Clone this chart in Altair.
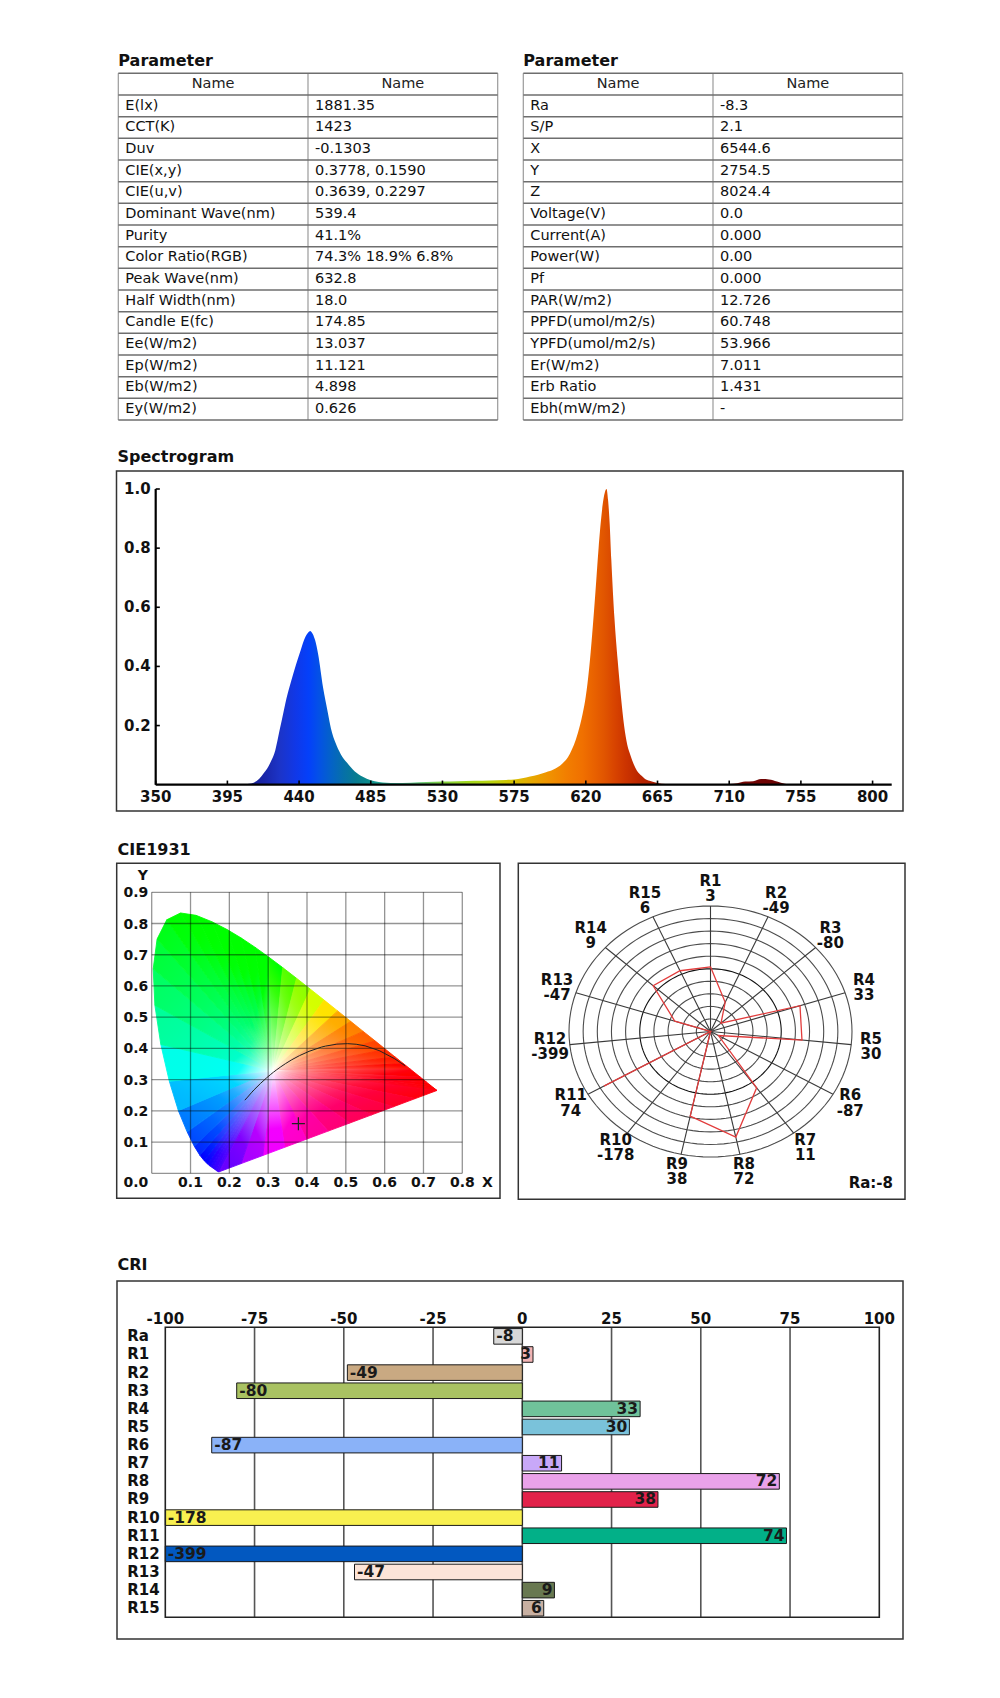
import altair as alt
import pandas as pd

FONT = "DejaVu Sans"

# ---------------- data ----------------
header = ["Name", "Name"]
left_names = ["E(lx)", "CCT(K)", "Duv", "CIE(x,y)", "CIE(u,v)", "Dominant Wave(nm)", "Purity",
              "Color Ratio(RGB)", "Peak Wave(nm)", "Half Width(nm)", "Candle E(fc)", "Ee(W/m2)",
              "Ep(W/m2)", "Eb(W/m2)", "Ey(W/m2)"]
left_values = ["1881.35", "1423", "-0.1303", "0.3778, 0.1590", "0.3639, 0.2297", "539.4", "41.1%",
               "74.3% 18.9% 6.8%", "632.8", "18.0", "174.85", "13.037", "11.121", "4.898", "0.626"]
right_names = ["Ra", "S/P", "X", "Y", "Z", "Voltage(V)", "Current(A)", "Power(W)", "Pf", "PAR(W/m2)",
               "PPFD(umol/m2/s)", "YPFD(umol/m2/s)", "Er(W/m2)", "Erb Ratio", "Ebh(mW/m2)"]
right_values = ["-8.3", "2.1", "6544.6", "2754.5", "8024.4", "0.0", "0.000", "0.00", "0.000", "12.726",
                "60.748", "53.966", "7.011", "1.431", "-"]

spec_wl = [350, 400, 405, 410, 415, 418, 420, 422, 425, 428, 430, 432, 435, 438, 441, 444, 446, 447,
           448, 450, 452, 455, 458, 460, 463, 466, 470, 475, 480, 485, 490, 495, 500, 510, 520, 530,
           540, 550, 560, 570, 575, 580, 585, 590, 595, 600, 605, 610, 615, 618, 620, 622, 624, 626,
           628, 630, 632, 633, 634, 635, 636, 638, 640, 642, 644, 646, 648, 650, 652, 655, 657, 660,
           665, 670, 680, 700, 710, 715, 720, 725, 730, 735, 740, 745, 750, 812]
spec_val = [0, 0, 0.001, 0.004, 0.02, 0.04, 0.055, 0.075, 0.115, 0.19, 0.24, 0.29, 0.35, 0.405,
            0.455, 0.50, 0.516, 0.52, 0.515, 0.49, 0.44, 0.33, 0.245, 0.19, 0.14, 0.105, 0.075,
            0.045, 0.027, 0.015, 0.009, 0.007, 0.006, 0.007, 0.009, 0.011, 0.012, 0.013, 0.014,
            0.016, 0.018, 0.022, 0.028, 0.034, 0.042, 0.052, 0.07, 0.105, 0.175, 0.24, 0.30, 0.39,
            0.51, 0.65, 0.80, 0.92, 0.99, 1.0, 0.96, 0.88, 0.76, 0.56, 0.42, 0.30, 0.20, 0.135, 0.10,
            0.07, 0.048, 0.03, 0.02, 0.013, 0.006, 0.002, 0.001, 0.001, 0.002, 0.005, 0.011, 0.012,
            0.019, 0.018, 0.011, 0.003, 0, 0]
spec_xticks = [350, 395, 440, 485, 530, 575, 620, 665, 710, 755, 800]
spec_yticks = [0.2, 0.4, 0.6, 0.8, 1.0]

locus_x = [0.1741, 0.1714, 0.1689, 0.1644, 0.1566, 0.1510, 0.1440, 0.1355, 0.1241, 0.1096, 0.0913,
           0.0687, 0.0454, 0.0235, 0.0082, 0.0039, 0.0139, 0.0389, 0.0743, 0.1142, 0.1547, 0.1929,
           0.2296, 0.2658, 0.3016, 0.3373, 0.3731, 0.4087, 0.4441, 0.4788, 0.5125, 0.5448, 0.5752,
           0.6029, 0.6270, 0.6482, 0.6658, 0.6915, 0.7079, 0.7190, 0.7260, 0.7300, 0.7334, 0.7347]
locus_y = [0.0050, 0.0051, 0.0069, 0.0109, 0.0177, 0.0227, 0.0297, 0.0399, 0.0578, 0.0868, 0.1327,
           0.2007, 0.2950, 0.4127, 0.5384, 0.6548, 0.7502, 0.8120, 0.8338, 0.8262, 0.8059, 0.7816,
           0.7543, 0.7243, 0.6923, 0.6589, 0.6245, 0.5896, 0.5547, 0.5202, 0.4866, 0.4544, 0.4242,
           0.3965, 0.3725, 0.3514, 0.3340, 0.3083, 0.2920, 0.2809, 0.2740, 0.2700, 0.2666, 0.2653]
white_xy = (0.3127, 0.3290)
planck_x = [0.2399, 0.2471, 0.2565, 0.2637, 0.2807, 0.2952, 0.3064, 0.3135, 0.3221, 0.3325, 0.3451,
            0.3608, 0.3805, 0.4053, 0.4369, 0.4476, 0.4770, 0.5045, 0.5267, 0.5497, 0.5857, 0.6251, 0.6528]
planck_y = [0.2342, 0.2441, 0.2577, 0.2674, 0.2884, 0.3048, 0.3166, 0.3237, 0.3318, 0.3411, 0.3516,
            0.3636, 0.3768, 0.3907, 0.4041, 0.4074, 0.4137, 0.4152, 0.4133, 0.4082, 0.3931, 0.3674, 0.3444]
sample_xy = (0.3778, 0.1590)
cie_xticks = [0.0, 0.1, 0.2, 0.3, 0.4, 0.5, 0.6, 0.7, 0.8]
cie_yticks = [0.0, 0.1, 0.2, 0.3, 0.4, 0.5, 0.6, 0.7, 0.8, 0.9]

cri_names = ["Ra", "R1", "R2", "R3", "R4", "R5", "R6", "R7", "R8", "R9", "R10", "R11", "R12", "R13", "R14", "R15"]
cri_values = [-8, 3, -49, -80, 33, 30, -87, 11, 72, 38, -178, 74, -399, -47, 9, 6]
cri_colors = ["#d8d8d8", "#f2b4b4", "#c9a982", "#a9c262", "#70c29a", "#7ac2da", "#8ab2f8", "#c8a8f8",
              "#eaa2ea", "#e2224a", "#f8f050", "#02b088", "#0258c0", "#fce4d8", "#687850", "#c8b0a2"]
cri_ticks = [-100, -75, -50, -25, 0, 25, 50, 75, 100]

# styles
spec_stop_nm = [350, 405, 418, 428, 438, 446, 452, 460, 468, 476, 484, 492, 502, 515, 530, 545, 560, 572,
                584, 596, 608, 618, 626, 632, 638, 645, 655, 670, 700, 730, 760, 812]
spec_stop_col = ["#161a80", "#161c88", "#1a26a8", "#1c34c8", "#1038e8", "#0440fa", "#0450e8", "#0462c8",
                 "#0670a8", "#087c90", "#0c8c8c", "#22a894", "#48c0a0", "#66c880", "#80d040", "#a0d820",
                 "#b8d410", "#d0c400", "#e4ac00", "#f09400", "#f27e00", "#f07000", "#e86000", "#e05400",
                 "#d84400", "#cc3400", "#b82400", "#a01800", "#881008", "#700404", "#600000", "#500000"]


# ---------------- helpers ----------------
def lin(domain, rng, **kw):
    return alt.Scale(type="linear", domain=domain, range=rng, nice=False, zero=False, **kw)


def X(scale, field=None, datum=None):
    if field is not None:
        return alt.X(field, scale=scale, axis=None)
    return alt.X(datum=datum, scale=scale, axis=None)


def Y(scale, field=None, datum=None):
    if field is not None:
        return alt.Y(field, scale=scale, axis=None)
    return alt.Y(datum=datum, scale=scale, axis=None)


def one():
    return pd.DataFrame({"k": [0]})


def frame(x0, y0, x1, y1, color="#333", width=1.5):
    return alt.Chart(one()).mark_rect(fillOpacity=0, stroke=color, strokeWidth=width).encode(
        x=alt.value(x0), x2=alt.value(x1), y=alt.value(y0), y2=alt.value(y1))


def title_text(txt, x, y):
    return alt.Chart(pd.DataFrame({"t": [txt]})).mark_text(
        align="left", baseline="middle", font=FONT, fontSize=16, fontWeight="bold", color="#111"
    ).encode(x=alt.value(x), y=alt.value(y), text="t:N")


L = []


# ---------------- tables ----------------
def table(names, values, x0, x1, y0, y1, ttl):
    n = len(names) + 1
    tx = lin([0, 2], [x0, x1])
    ty = lin([0, n], [y0, y1])
    rows = pd.DataFrame({"name": names, "value": values, "r": [i + 1.5 for i in range(len(names))]})
    out = [title_text(ttl, x0, y0 - 12.3)]
    out.append(alt.Chart(pd.DataFrame({"c": [0, 1, 2]})).mark_rule(color="#9a9a9a", strokeWidth=1.2).encode(
        x=X(tx, "c:Q"), y=Y(ty, datum=0), y2=alt.Y2(datum=n)))
    out.append(alt.Chart(pd.DataFrame({"r": list(range(n + 1))})).mark_rule(color="#6e6e6e", strokeWidth=1.5).encode(
        y=Y(ty, "r:Q"), x=X(tx, datum=0), x2=alt.X2(datum=2)))
    out.append(alt.Chart(pd.DataFrame({"c": [0.5, 1.5], "t": header})).mark_text(
        align="center", baseline="middle", font=FONT, fontSize=14.5, color="#222").encode(
        x=X(tx, "c:Q"), y=Y(ty, datum=0.5), text="t:N"))
    out.append(alt.Chart(rows).mark_text(
        align="left", baseline="middle", dx=7, font=FONT, fontSize=14.5, color="#111").encode(
        x=X(tx, datum=0), y=Y(ty, "r:Q"), text="name:N"))
    out.append(alt.Chart(rows).mark_text(
        align="left", baseline="middle", dx=7, font=FONT, fontSize=14.5, color="#111").encode(
        x=X(tx, datum=1), y=Y(ty, "r:Q"), text="value:N"))
    return out


L += table(left_names, left_values, 118.3, 497.7, 73.3, 420.0, "Parameter")
L += table(right_names, right_values, 523.3, 902.7, 73.3, 420.0, "Parameter")

# ---------------- spectrogram ----------------
sx = lin([350, 812], [155.7, 891.7])
sy = lin([0, 1], [784.7, 489])
L.append(title_text("Spectrogram", 117.5, 457))
L.append(frame(116.5, 471, 903, 811))
span = spec_wl[-1] - spec_wl[0]
spec_grad = {"gradient": "linear", "x1": 0, "y1": 0, "x2": 1, "y2": 0,
             "stops": [{"offset": (w - spec_wl[0]) / span, "color": c} for w, c in zip(spec_stop_nm, spec_stop_col)]}
spec_df = pd.DataFrame({"wl": spec_wl, "v": spec_val})
L.append(alt.Chart(spec_df).mark_area(fill=spec_grad, interpolate="monotone").encode(
    x=X(sx, "wl:Q"), y=Y(sy, "v:Q"), y2=alt.Y2(datum=0)))
L.append(alt.Chart(one()).mark_rule(color="#000", strokeWidth=2.2).encode(
    x=X(sx, datum=spec_wl[0]), x2=alt.X2(datum=spec_wl[-1]), y=Y(sy, datum=0)))
L.append(alt.Chart(one()).mark_rule(color="#000", strokeWidth=2.2).encode(
    x=X(sx, datum=spec_wl[0]), y=Y(sy, datum=0), y2=alt.Y2(datum=1)))
xt = pd.DataFrame({"t": spec_xticks, "s": [str(t) for t in spec_xticks]})
L.append(alt.Chart(xt).mark_rule(color="#000", strokeWidth=1.6).encode(
    x=X(sx, "t:Q"), y=Y(sy, datum=0), y2=alt.Y2(datum=0.014)))
L.append(alt.Chart(xt).mark_text(align="center", baseline="middle", dy=12, font=FONT, fontSize=15,
                                 fontWeight="bold", color="#111").encode(
    x=X(sx, "t:Q"), y=Y(sy, datum=0), text="s:N"))
yt = pd.DataFrame({"v": spec_yticks, "s": ["%.1f" % v for v in spec_yticks]})
L.append(alt.Chart(yt).mark_rule(color="#000", strokeWidth=1.6).encode(
    y=Y(sy, "v:Q"), x=X(sx, datum=spec_wl[0]), x2=alt.X2(datum=spec_wl[0] + 2.6)))
L.append(alt.Chart(yt).mark_text(align="right", baseline="middle", dx=-5, font=FONT, fontSize=15,
                                 fontWeight="bold", color="#111").encode(
    y=Y(sy, "v:Q"), x=X(sx, datum=spec_wl[0]), text="s:N"))

# ---------------- CIE 1931 ----------------
cx = lin([0, 0.8], [151.7, 462.3])
cy = lin([0, 0.9], [1173.3, 892.3])
L.append(title_text("CIE1931", 117.5, 850))
L.append(frame(116.7, 863.3, 500, 1198.3))


def xy_color(x, y):
    X_ = x / y
    Z_ = (1 - x - y) / y
    r = 3.2406 * X_ - 1.5372 - 0.4986 * Z_
    g = -0.9689 * X_ + 1.8758 + 0.0415 * Z_
    b = 0.0557 * X_ - 0.2040 + 1.0570 * Z_
    r, g, b = max(r, 0.0), max(g, 0.0), max(b, 0.0)
    m = max(r, g, b)
    return "#%02x%02x%02x" % tuple(int(round(255 * min(1.0, c / m) ** (1 / 1.4))) for c in (r, g, b))


wx, wy = white_xy
edge = list(zip(locus_x, locus_y))
ax_, ay_ = edge[-1]
bx_, by_ = edge[0]
purple = [(ax_ + (bx_ - ax_) * k / 10, ay_ + (by_ - ay_) * k / 10) for k in range(1, 10)]
loop = edge + purple
fracs = [0, 0.04, 0.08, 0.13, 0.2, 0.3, 0.42, 0.56, 0.72, 0.86, 1.0]
for i in range(len(loop)):
    A = loop[i]
    B = loop[(i + 1) % len(loop)]
    xs_ = [wx, A[0], B[0], wx]
    ys_ = [wy, A[1], B[1], wy]
    x0, x1 = min(xs_), max(xs_)
    y0, y1 = min(ys_), max(ys_)
    mx, my = (A[0] + B[0]) / 2, (A[1] + B[1]) / 2
    stops = [{"offset": f, "color": xy_color(wx + f * (mx - wx), wy + f * (my - wy))} for f in fracs]
    grad = {"gradient": "linear",
            "x1": (wx - x0) / (x1 - x0), "y1": (y1 - wy) / (y1 - y0),
            "x2": (mx - x0) / (x1 - x0), "y2": (y1 - my) / (y1 - y0),
            "stops": stops}
    tri = pd.DataFrame({"x": xs_, "y": ys_, "i": [0, 1, 2, 3]})
    L.append(alt.Chart(tri).mark_line(filled=True, fill=grad, stroke=grad, strokeWidth=0.9,
                                      interpolate="linear").encode(
        x=X(cx, "x:Q"), y=Y(cy, "y:Q"), order="i:Q"))

gx = pd.DataFrame({"v": cie_xticks})
gy = pd.DataFrame({"v": cie_yticks})
L.append(alt.Chart(gx).mark_rule(color="#000", opacity=0.42, strokeWidth=1.3).encode(
    x=X(cx, "v:Q"), y=Y(cy, datum=cie_yticks[0]), y2=alt.Y2(datum=cie_yticks[-1])))
L.append(alt.Chart(gy).mark_rule(color="#000", opacity=0.42, strokeWidth=1.3).encode(
    y=Y(cy, "v:Q"), x=X(cx, datum=cie_xticks[0]), x2=alt.X2(datum=cie_xticks[-1])))
pl = pd.DataFrame({"x": planck_x, "y": planck_y, "i": list(range(len(planck_x)))})
L.append(alt.Chart(pl).mark_line(color="#222", strokeWidth=1).encode(
    x=X(cx, "x:Q"), y=Y(cy, "y:Q"), order="i:Q"))
L.append(alt.Chart(pd.DataFrame({"x": [sample_xy[0]], "y": [sample_xy[1]]})).mark_point(
    shape="M-1,0L1,0M0,-1L0,1", size=170, filled=False, stroke="#222", strokeWidth=1.2, opacity=1).encode(
    x=X(cx, "x:Q"), y=Y(cy, "y:Q")))
xl = pd.DataFrame({"v": cie_xticks[1:], "s": ["%.1f" % v for v in cie_xticks[1:]]})
L.append(alt.Chart(xl).mark_text(align="center", baseline="middle", dy=10, font=FONT, fontSize=14,
                                 fontWeight="bold", color="#111").encode(
    x=X(cx, "v:Q"), y=Y(cy, datum=0), text="s:N"))
yl = pd.DataFrame({"v": cie_yticks[1:], "s": ["%.1f" % v for v in cie_yticks[1:]]})
L.append(alt.Chart(yl).mark_text(align="right", baseline="middle", dx=-3.5, dy=1, font=FONT, fontSize=14,
                                 fontWeight="bold", color="#111").encode(
    y=Y(cy, "v:Q"), x=X(cx, datum=0), text="s:N"))
L.append(alt.Chart(pd.DataFrame({"s": ["0.0"]})).mark_text(
    align="right", baseline="middle", dx=-3.5, dy=10, font=FONT, fontSize=14, fontWeight="bold",
    color="#111").encode(x=X(cx, datum=0), y=Y(cy, datum=0), text="s:N"))
L.append(alt.Chart(pd.DataFrame({"s": ["X"]})).mark_text(
    align="center", baseline="middle", dx=25, dy=10, font=FONT, fontSize=14, fontWeight="bold",
    color="#111").encode(x=X(cx, datum=0.8), y=Y(cy, datum=0), text="s:N"))
L.append(alt.Chart(pd.DataFrame({"s": ["Y"]})).mark_text(
    align="center", baseline="middle", dx=-9, dy=-16, font=FONT, fontSize=14, fontWeight="bold",
    color="#111").encode(x=X(cx, datum=0), y=Y(cy, datum=0.9), text="s:N"))

# ---------------- polar CRI ----------------
pxs = lin([-1, 1], [569, 852])
pys = lin([-1, 1], [1157, 906])
L.append(frame(518.3, 863.3, 905, 1199.3))
pol_names = cri_names[1:]
pol_vals = cri_values[1:]
nsp = len(pol_names)
ring_levels = [k / 10 for k in range(1, 11)]
ring_df = pd.DataFrame([(r, t, "#111" if abs(r - 0.5) < 1e-9 else "#4d4d4d")
                        for r in ring_levels for t in range(0, 361, 3)], columns=["r", "t", "c"])
L.append(alt.Chart(ring_df).transform_calculate(
    px="datum.r*sin(datum.t*PI/180)", py="datum.r*cos(datum.t*PI/180)").mark_line(strokeWidth=1.1).encode(
    x=X(pxs, "px:Q"), y=Y(pys, "py:Q"), detail="r:N", order="t:Q", color=alt.Color("c:N", scale=None)))
sp = pd.DataFrame({"k": list(range(nsp))})
L.append(alt.Chart(sp).transform_calculate(
    a="datum.k*2*PI/%d" % nsp, ex="sin(datum.a)", ey="cos(datum.a)", z="0").mark_rule(
    color="#3a3a3a", strokeWidth=1.1).encode(
    x=X(pxs, "z:Q"), y=Y(pys, "z:Q"), x2=alt.X2("ex:Q"), y2=alt.Y2("ey:Q")))
poly = pd.DataFrame({"k": list(range(nsp)) + [0], "v": pol_vals + [pol_vals[0]],
                     "o": list(range(nsp + 1))})
L.append(alt.Chart(poly).transform_calculate(
    a="datum.k*2*PI/%d" % nsp, rr="clamp((datum.v+100)/200, 0, 1)",
    px="datum.rr*sin(datum.a)", py="datum.rr*cos(datum.a)").mark_line(
    color="#e23c3c", strokeWidth=1.3).encode(x=X(pxs, "px:Q"), y=Y(pys, "py:Q"), order="o:Q"))
lab = pd.DataFrame({"k": list(range(nsp)), "n": pol_names, "s": [str(v) for v in pol_vals]})
for fld, dyv in (("n", -7.7), ("s", 7.7)):
    L.append(alt.Chart(lab).transform_calculate(
        a="datum.k*2*PI/%d" % nsp, lx="1.14*sin(datum.a)", ly="1.14*cos(datum.a)").mark_text(
        align="center", baseline="middle", dy=dyv, font=FONT, fontSize=15, fontWeight="bold",
        color="#111").encode(x=X(pxs, "lx:Q"), y=Y(pys, "ly:Q"), text=fld + ":N"))
L.append(alt.Chart(pd.DataFrame({"s": ["Ra:%d" % cri_values[0]]})).mark_text(
    align="right", baseline="middle", font=FONT, fontSize=15, fontWeight="bold", color="#111").encode(
    x=alt.value(893), y=alt.value(1182.7), text="s:N"))

# ---------------- CRI bars ----------------
rx = lin([cri_ticks[0], cri_ticks[-1]], [165.3, 879.3], clamp=True)
rq = lin([0, len(cri_names)], [1327.3, 1617.3])
rb = alt.Scale(type="band", domain=cri_names, range=[1327.3, 1617.3], paddingInner=0.14, paddingOuter=0.07)
L.append(title_text("CRI", 117.5, 1265))
L.append(frame(117, 1281, 903, 1639))
L.append(alt.Chart(pd.DataFrame({"t": cri_ticks[1:-1]})).mark_rule(color="#555", strokeWidth=1.6).encode(
    x=X(rx, "t:Q"), y=Y(rq, datum=0), y2=alt.Y2(datum=len(cri_names))))
cri_df = pd.DataFrame({"name": cri_names, "v": cri_values, "c": cri_colors,
                       "s": [str(v) for v in cri_values]})
L.append(alt.Chart(cri_df).mark_bar(stroke="#1a1a1a", strokeWidth=1).encode(
    x=alt.X("v:Q", scale=rx, axis=None), x2=alt.X2(datum=0),
    y=alt.Y("name:N", scale=rb, axis=None, sort=cri_names),
    color=alt.Color("c:N", scale=None)))
L.append(alt.Chart(one()).mark_rect(fillOpacity=0, stroke="#222", strokeWidth=1.6).encode(
    x=X(rx, datum=cri_ticks[0]), x2=alt.X2(datum=cri_ticks[-1]),
    y=Y(rq, datum=0), y2=alt.Y2(datum=len(cri_names))))
ct = pd.DataFrame({"t": cri_ticks, "s": [str(t) for t in cri_ticks]})
L.append(alt.Chart(ct).mark_text(align="center", baseline="middle", dy=-8.5, font=FONT, fontSize=15,
                                 fontWeight="bold", color="#111").encode(
    x=X(rx, "t:Q"), y=Y(rq, datum=0), text="s:N"))
L.append(alt.Chart(cri_df).mark_text(align="left", baseline="middle", dx=-38, font=FONT, fontSize=15,
                                     fontWeight="bold", color="#111").encode(
    x=X(rx, datum=cri_ticks[0]), y=alt.Y("name:N", scale=rb, axis=None, sort=cri_names), text="name:N"))
L.append(alt.Chart(cri_df).transform_filter("datum.v < 0").transform_calculate(
    vx="max(datum.v, %d)" % cri_ticks[0]).mark_text(
    align="left", baseline="middle", dx=2.5, font=FONT, fontSize=15.5, fontWeight="bold", color="#1a1a1a").encode(
    x=X(rx, "vx:Q"), y=alt.Y("name:N", scale=rb, axis=None, sort=cri_names), text="s:N"))
L.append(alt.Chart(cri_df).transform_filter("datum.v >= 0").mark_text(
    align="right", baseline="middle", dx=-2, font=FONT, fontSize=15.5, fontWeight="bold", color="#1a1a1a").encode(
    x=X(rx, "v:Q"), y=alt.Y("name:N", scale=rb, axis=None, sort=cri_names), text="s:N"))

chart = alt.layer(*L).resolve_scale(x="independent", y="independent").properties(
    width=1000, height=1698, padding={"left": 0, "top": 0, "right": 0, "bottom": 0},
    autosize=alt.AutoSizeParams(type="none")
).configure(background="white", view=alt.ViewConfig(stroke="transparent", strokeWidth=0))

chart.save("out.html", embed_options={"renderer": "svg", "actions": False})
